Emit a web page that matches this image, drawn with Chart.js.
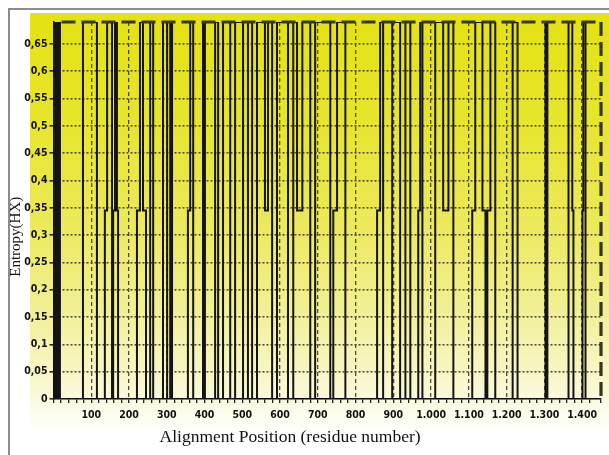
<!DOCTYPE html>
<html>
<head>
<meta charset="utf-8">
<script src="https://cdn.jsdelivr.net/npm/chart.js@4.4.0/dist/chart.umd.min.js"></script>
<style>
  html, body { margin: 0; padding: 0; background: #fff; }
  .frame { position: absolute; left: 8px; top: 8px; width: 620px; height: 470px; border-left: 2px solid #8c8c8c; border-top: 2px solid #8c8c8c; }
  canvas { position: absolute; left: 0; top: 0; }
</style>
</head>
<body>
<div class="frame"></div>
<canvas class="js-chart" width="609" height="455"></canvas>
<script>
const ctx = document.querySelector('.js-chart').getContext('2d');

const FULL = 0.69;   // maximum entropy level
const HALF = 0.345;  // intermediate level
const X_MAX = 1450;
const Y_MAX = 0.69;

// alignment positions where the entropy changes, and the value from there on
const positions = [
    0, 0, 3, 5, 8, 10, 13, 15, 17,
    78, 115,
    136, 142, 155, 158, 163, 168, 171,
    221, 229, 237, 245, 256, 264,
    290, 301, 309, 314,
    356, 362, 370,
    396, 401,
    428, 436, 449, 468,
    481, 502, 515, 526,
    539, 560, 568, 579,
    592, 621,
    635, 645, 659, 680,
    693, 733,
    741, 751, 773,
    857, 865, 873,
    897, 918, 932, 945,
    966, 971, 977,
    1011, 1032, 1046, 1059,
    1109, 1117, 1136, 1144, 1149, 1157, 1170,
    1216, 1229,
    1303, 1308,
    1364, 1374, 1377,
    1401, 1403, 1409,
    1450
];
const entropy = [
    0, FULL, 0, FULL, 0, FULL, 0, FULL, 0,
    FULL, 0,
    HALF, FULL, 0, HALF, FULL, HALF, 0,
    HALF, FULL, HALF, 0, FULL, 0,
    FULL, 0, FULL, 0,
    HALF, FULL, 0,
    FULL, 0,
    FULL, 0, FULL, 0,
    FULL, 0, FULL, 0,
    FULL, HALF, FULL, 0,
    FULL, 0,
    FULL, HALF, FULL, 0,
    FULL, 0,
    HALF, FULL, 0,
    HALF, FULL, 0,
    FULL, 0, FULL, 0,
    HALF, FULL, 0,
    FULL, HALF, FULL, 0,
    HALF, FULL, HALF, 0, HALF, FULL, 0,
    FULL, 0,
    FULL, 0,
    FULL, HALF, 0,
    HALF, FULL, 0,
    0
];

const NARROW = "'DejaVu Sans', sans-serif";
const SERIF = "'Liberation Serif', 'Times New Roman', serif";
const PAD = '\u00a0';

function withDots(v) {
    return String(v).replace(/\B(?=(\d{3})+$)/g, '.');
}

const background = {
    id: 'background',
    beforeDraw(chart) {
        const c = chart.ctx;
        const g = c.createLinearGradient(0, 13, 0, 432);
        g.addColorStop(0, '#e4e212');
        g.addColorStop(0.25, '#e7e52a');
        g.addColorStop(0.5, '#ece95a');
        g.addColorStop(0.72, '#f2f098');
        g.addColorStop(0.9, '#f9f8d4');
        g.addColorStop(1, '#ffffff');
        c.save();
        c.fillStyle = g;
        c.fillRect(30, 13, 579, 419);
        c.restore();
    }
};

const dashedFrame = {
    id: 'dashedFrame',
    afterDatasetsDraw(chart) {
        const c = chart.ctx, a = chart.chartArea;
        c.save();
        c.strokeStyle = '#36351f';
        c.lineWidth = 3.2;
        c.setLineDash([14, 6]);
        c.beginPath();
        c.moveTo(a.left + 8, a.top);
        c.lineTo(a.right, a.top);
        c.stroke();
        c.beginPath();
        c.moveTo(a.right, a.top);
        c.lineTo(a.right, a.bottom);
        c.stroke();
        c.restore();
    }
};

new Chart(ctx, {
    type: 'line',
    data: {
        datasets: [{
            data: positions.map((x, i) => ({ x, y: entropy[i] })),
            stepped: true,
            borderColor: '#141414',
            borderWidth: 2,
            pointRadius: 0,
            fill: false,
        }]
    },
    options: {
        responsive: false,
        animation: false,
        events: [],
        layout: { padding: { left: 7, top: 22, right: 8, bottom: 6 } },
        plugins: { legend: { display: false }, tooltip: { enabled: false } },
        scales: {
            x: {
                type: 'linear',
                min: 0,
                max: X_MAX,
                afterFit(scale) { scale.height = 50; },
                border: { color: '#000', width: 1.5, dash: [4, 3] },
                grid: {
                    color: c => (c.tick && c.tick.value % 100 === 0 && c.tick.value > 0 && c.tick.value < X_MAX) ? '#4c4b36' : 'rgba(0,0,0,0)',
                    tickColor: '#222',
                    tickLength: 4,
                    lineWidth: 1.3,
                },
                ticks: {
                    stepSize: 20,
                    autoSkip: false,
                    maxRotation: 0,
                    padding: 6,
                    color: '#111',
                    font: { family: NARROW, size: 10.5, weight: 'bold condensed' },
                    callback(value) {
                        return (value % 100 === 0 && value > 0 && value <= 1400) ? withDots(value) : '';
                    }
                },
                title: {
                    display: true,
                    text: 'Alignment Position (residue number)' + PAD.repeat(17),
                    color: '#111',
                    font: { family: SERIF, size: 17.5 },
                    padding: { top: 2, bottom: 1 }
                }
            },
            y: {
                min: 0,
                max: Y_MAX,
                afterFit(scale) { scale.width = 46.5; },
                afterBuildTicks(scale) {
                    scale.ticks = scale.ticks.filter(t => t.value < 0.66);
                },
                border: { color: '#000', width: 1.5, dash: [2, 2] },
                grid: {
                    color: c => (c.tick && c.tick.value > 0) ? '#4c4b36' : 'rgba(0,0,0,0)',
                    tickColor: '#222',
                    tickLength: 4,
                    lineWidth: 1.6,
                },
                ticks: {
                    stepSize: 0.05,
                    padding: 2,
                    color: '#111',
                    font: { family: NARROW, size: 10.5, weight: 'bold condensed' },
                    callback(value) {
                        return String(Math.round(value * 100) / 100).replace('.', ',');
                    }
                },
                title: {
                    display: true,
                    text: 'Entropy(HX)' + PAD.repeat(14),
                    color: '#111',
                    font: { family: SERIF, size: 15 },
                    padding: { top: 0, bottom: 0 }
                }
            }
        }
    },
    plugins: [background, dashedFrame]
});
</script>
</body>
</html>
